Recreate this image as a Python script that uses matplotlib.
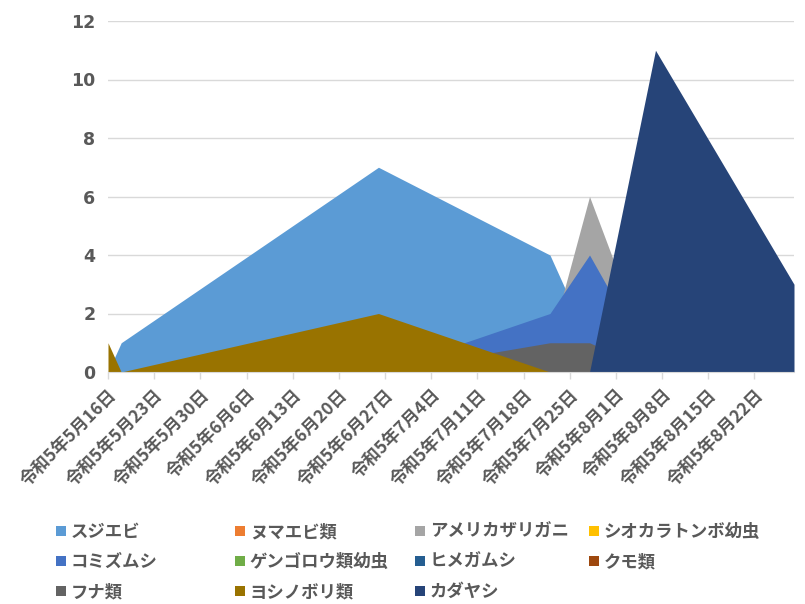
import datetime as dt
import matplotlib
matplotlib.use("Agg")
import matplotlib.pyplot as plt
import matplotlib.dates as mdates
from matplotlib.patches import Patch

plt.rcParams['font.family'] = ['Noto Sans CJK JP', 'DejaVu Sans']

# Survey dates (Reiwa 5 = 2023)
dates = [dt.date(2023, 5, 16), dt.date(2023, 5, 18), dt.date(2023, 6, 26),
         dt.date(2023, 7, 22), dt.date(2023, 7, 28), dt.date(2023, 8, 7),
         dt.date(2023, 8, 28)]

species = ["スジエビ", "ヌマエビ類", "アメリカザリガニ", "シオカラトンボ幼虫",
           "コミズムシ", "ゲンゴロウ類幼虫", "ヒメガムシ", "クモ類",
           "フナ類", "ヨシノボリ類", "カダヤシ"]

sujiebi       = [0, 1, 7, 4, 1, 0, 0]
numaebi       = [0, 0, 0, 0, 0, 0, 0]
zarigani      = [0, 0, 0, 1, 6, 0, 0]
shiokara      = [0, 0, 0, 0, 0, 0, 0]
komizumushi   = [0, 0, 0, 2, 4, 0, 0]
gengorou      = [0, 0, 0, 0, 0, 0, 0]
himegamushi   = [0, 0, 0, 0, 0, 0, 0]
kumo          = [0, 0, 0, 0, 0, 0, 0]
funa          = [0, 0, 0, 1, 1, 0, 0]
yoshinobori   = [1, 0, 2, 0, 0, 0, 0]
kadayashi     = [0, 0, 0, 0, 0, 11, 3]

series = [sujiebi, numaebi, zarigani, shiokara, komizumushi, gengorou,
          himegamushi, kumo, funa, yoshinobori, kadayashi]

colors = ["#5B9BD5", "#ED7D31", "#A5A5A5", "#FFC000", "#4472C4", "#70AD47",
          "#255E91", "#9E480E", "#636363", "#997300", "#264478"]

# Weekly axis ticks
tick_dates = [dt.date(2023, 5, 16) + dt.timedelta(days=7 * k) for k in range(15)]
tick_labels = [f"令和5年{d.month}月{d.day}日" for d in tick_dates]

text_color = "#595959"
grid_color = "#D9D9D9"

fig = plt.figure(figsize=(8.05, 6.04), dpi=100)
ax = fig.add_axes([108 / 805, 1 - 372 / 604, (794 - 108) / 805, (372 - 21) / 604])

x = mdates.date2num(dates)
for vals, col in zip(series, colors):
    ax.fill_between(x, 0, vals, color=col, linewidth=0, zorder=2)

ax.set_xlim(mdates.date2num(dt.date(2023, 5, 16)), mdates.date2num(dt.date(2023, 8, 28)))
ax.set_ylim(0, 12)
ax.set_yticks(range(0, 13, 2))
ax.set_yticklabels([str(v) for v in range(0, 13, 2)], fontsize=12.5, fontweight='bold',
                   color=text_color, family='DejaVu Sans')
ax.tick_params(axis='y', length=0, pad=9)

ax.set_xticks(mdates.date2num(tick_dates))
ax.set_xticklabels(tick_labels, rotation=45, ha='right', va='top',
                   rotation_mode='anchor', fontsize=12.5, fontweight='bold',
                   color=text_color)
ax.tick_params(axis='x', length=5, color=grid_color, width=1, pad=5)

ax.grid(axis='y', color=grid_color, linewidth=1, zorder=0)
ax.set_axisbelow(True)
for side in ['left', 'right', 'top']:
    ax.spines[side].set_visible(False)
ax.spines['bottom'].set_color(grid_color)
ax.spines['bottom'].set_zorder(3)

# Legend laid out row by row in four evenly spaced columns
handles = [Patch(facecolor=c, edgecolor='none') for c in colors]
col_x = [56, 235, 415, 589]
for c in range(4):
    idx = [i for i in range(c, len(species), 4)]
    leg = fig.legend([handles[i] for i in idx], [species[i] for i in idx],
                     loc='upper left', bbox_to_anchor=(col_x[c] / 805, 1 - 523 / 604),
                     frameon=False, handlelength=0.55, handleheight=0.55,
                     handletextpad=0.3, labelspacing=0.7, borderaxespad=0, borderpad=0,
                     prop={'weight': 'bold', 'size': 12.5})
    for t in leg.get_texts():
        t.set_color(text_color)

fig.savefig("out.png", dpi=100)
